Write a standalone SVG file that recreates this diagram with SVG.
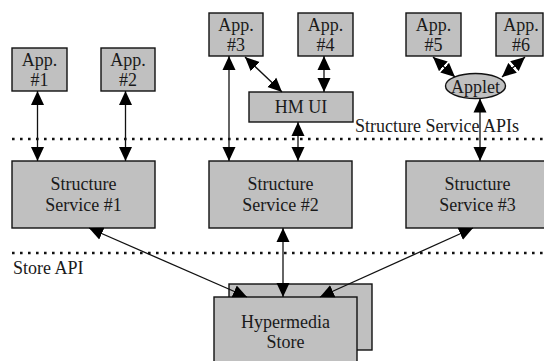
<svg xmlns="http://www.w3.org/2000/svg" width="544" height="361" viewBox="0 0 544 361">
<style>
.box{fill:#c0c0c0;stroke:#111;stroke-width:1.4}
.t{font-family:"Liberation Serif","Times New Roman",serif;font-size:18px;fill:#1a1a1a;text-anchor:middle}
.lbl{font-family:"Liberation Serif","Times New Roman",serif;font-size:18px;fill:#1a1a1a}
.dot{stroke:#111;stroke-width:2.6;stroke-dasharray:2.6 5.4;fill:none}
.c{stroke:#111;stroke-width:1.3;fill:none;marker-start:url(#ah);marker-end:url(#ah)}
</style>
<defs>
<marker id="ah" viewBox="0 0 14 14" refX="14" refY="7" markerWidth="14" markerHeight="14" markerUnits="userSpaceOnUse" orient="auto-start-reverse">
<path d="M0,0.5 L14,7 L0,13.5 z" fill="#000"/>
</marker>
</defs>
<line class="dot" x1="12" y1="139" x2="544" y2="139"/>
<line class="dot" x1="12" y1="253" x2="544" y2="253"/>
<text class="lbl" x="355" y="132">Structure Service APIs</text>
<text class="lbl" x="13" y="274">Store API</text>
<g id="app1"><rect class="box" x="12" y="48" width="55" height="43"/><text class="t" x="39.5" y="66">App.</text><text class="t" x="39.5" y="86">#1</text></g>
<g id="app2"><rect class="box" x="101" y="48" width="54" height="43"/><text class="t" x="128" y="66">App.</text><text class="t" x="128" y="86">#2</text></g>
<g id="app3"><rect class="box" x="209" y="13" width="54" height="43"/><text class="t" x="236" y="31">App.</text><text class="t" x="236" y="51">#3</text></g>
<g id="app4"><rect class="box" x="298" y="13" width="55" height="43"/><text class="t" x="325.5" y="31">App.</text><text class="t" x="325.5" y="51">#4</text></g>
<g id="app5"><rect class="box" x="406" y="13" width="55" height="43"/><text class="t" x="433.5" y="31">App.</text><text class="t" x="433.5" y="51">#5</text></g>
<g id="app6"><rect class="box" x="496" y="13" width="47" height="43"/><text class="t" x="521" y="31">App.</text><text class="t" x="521" y="51">#6</text></g>
<g id="hmui"><rect class="box" x="249" y="92" width="104" height="30"/><text class="t" x="301" y="113">HM UI</text></g>
<g id="applet"><ellipse class="box" cx="475.5" cy="86" rx="30" ry="12.5"/><text class="t" x="475.5" y="93">Applet</text></g>
<g id="ss1"><rect class="box" x="12" y="161" width="143" height="67"/><text class="t" x="83.5" y="190">Structure</text><text class="t" x="83.5" y="211">Service #1</text></g>
<g id="ss2"><rect class="box" x="209" y="161" width="143" height="67"/><text class="t" x="280.5" y="190">Structure</text><text class="t" x="280.5" y="211">Service #2</text></g>
<g id="ss3"><rect class="box" x="406" y="161" width="143" height="67"/><text class="t" x="477.5" y="190">Structure</text><text class="t" x="477.5" y="211">Service #3</text></g>
<g id="store"><rect class="box" x="229" y="284" width="143" height="66"/><rect class="box" x="214" y="297" width="143" height="70"/><text class="t" x="285.5" y="328">Hypermedia</text><text class="t" x="285.5" y="348">Store</text></g>
<g id="connectors">
<line class="c" x1="37.5" y1="91" x2="37.5" y2="161"/>
<line class="c" x1="125.5" y1="91" x2="125.5" y2="161"/>
<line class="c" x1="229" y1="56" x2="229" y2="161"/>
<line class="c" x1="245" y1="57" x2="282" y2="92"/>
<line class="c" x1="324" y1="56" x2="324" y2="92"/>
<line class="c" x1="298" y1="122" x2="298" y2="161"/>
<line class="c" x1="433" y1="57" x2="455" y2="77"/>
<line class="c" x1="525" y1="57" x2="502" y2="77"/>
<line class="c" x1="480" y1="98.5" x2="480" y2="161"/>
<line class="c" x1="89" y1="228" x2="247" y2="297"/>
<line class="c" x1="283" y1="228" x2="283" y2="297"/>
<line class="c" x1="473" y1="228" x2="320" y2="297"/>
</g>
</svg>
